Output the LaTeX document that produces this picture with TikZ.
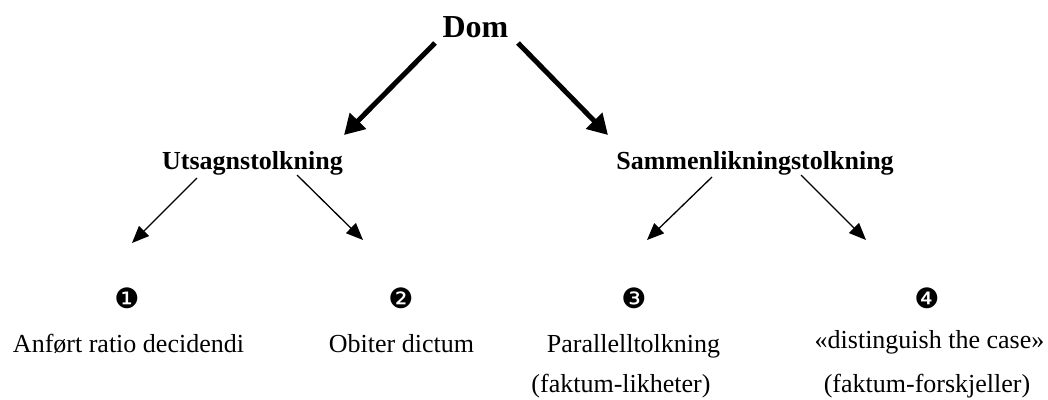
\documentclass[tikz,border=0pt]{standalone}
\usepackage{fontspec}
\setmainfont{Liberation Serif}
\newfontfamily\symfont{DejaVu Sans}
\usetikzlibrary{arrows.meta}
\tikzset{
  txt/.style={anchor=base, inner sep=0pt, font=\fontsize{26}{30}\selectfont},
  head/.style={anchor=base, inner sep=0pt, font=\fontsize{26}{30}\selectfont\bfseries},
  top/.style={anchor=base, inner sep=0pt, font=\fontsize{32}{36}\selectfont\bfseries},
  num/.style={anchor=center, inner sep=0pt, font=\fontsize{28}{30}\symfont},
  thick arrow/.style={line width=5pt, -{Triangle[length=20pt,width=22pt]}},
  thin arrow/.style={line width=1.3pt, -{Triangle[length=17pt,width=14pt]}}
}
\begin{document}
\begin{tikzpicture}[x=1pt,y=-1pt]
\useasboundingbox (0,0) rectangle (1048,399);
\node[top] (dom) at (475.5,37) {Dom};
\node[head] (uts) at (252.5,169) {Utsagnstolkning};
\node[head] (sam) at (755,169) {Sammenlikningstolkning};
\node[num] (n1) at (127,298) {❶};
\node[num] (n2) at (401,298) {❷};
\node[num] (n3) at (634,298) {❸};
\node[num] (n4) at (927,298) {❹};
\node[txt] (t1) at (128.5,352) {Anført ratio decidendi};
\node[txt] (t2) at (401.5,352) {Obiter dictum};
\node[txt] (t3) at (633.5,352) {Parallelltolkning};
\node[txt] (t3b) at (621,392) {(faktum-likheter)};
\node[txt] (t4) at (929.5,348) {«distinguish the case»};
\node[txt] (t4b) at (927,392) {(faktum-forskjeller)};
% arrow end points
\coordinate (domL) at (435,43);
\coordinate (domR) at (518,43);
\coordinate (utsIn) at (344,135);
\coordinate (samIn) at (608,135);
\coordinate (utsL) at (197,178);
\coordinate (utsR) at (297,175);
\coordinate (samL) at (712,177);
\coordinate (samR) at (801,175);
\coordinate (n1In) at (132,243);
\coordinate (n2In) at (363,240);
\coordinate (n3In) at (647,240);
\coordinate (n4In) at (866,240);
\draw[thick arrow] (domL) -- (utsIn);
\draw[thick arrow] (domR) -- (samIn);
\draw[thin arrow] (utsL) -- (n1In);
\draw[thin arrow] (utsR) -- (n2In);
\draw[thin arrow] (samL) -- (n3In);
\draw[thin arrow] (samR) -- (n4In);
\end{tikzpicture}
\end{document}
